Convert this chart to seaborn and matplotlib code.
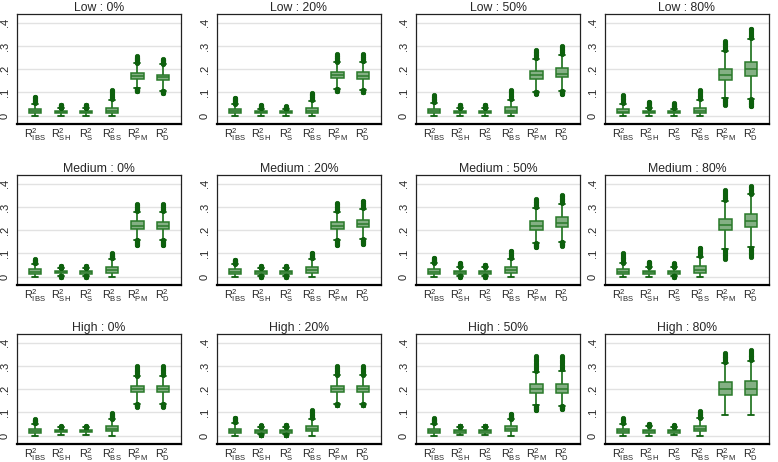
import numpy as np
import pandas as pd
import matplotlib
matplotlib.use("Agg")
import matplotlib.pyplot as plt
import seaborn as sns

# ---------------- data ----------------
measures = ["IBS", "SH", "S", "BS", "PM", "D"]
measure_labels = [r"R$^{2}_{\mathrm{IBS}}$", r"R$^{2}_{\mathrm{SH}}$", r"R$^{2}_{\mathrm{S}}$",
                  r"R$^{2}_{\mathrm{BS}}$", r"R$^{2}_{\mathrm{PM}}$", r"R$^{2}_{\mathrm{D}}$"]
levels = ["Low", "Medium", "High"]
missing = ["0%", "20%", "50%", "80%"]
ytick_vals = [0, 0.1, 0.2, 0.3, 0.4]
ytick_labels = ["0", ".1", ".2", ".3", ".4"]

# per panel, per measure: (outlier min, lower whisker, Q1, median, Q3, upper whisker, outlier max)
low_0 = [(0, 0, .010, .018, .028, .052, .082), (0, 0, .012, .016, .020, .032, .048),
         (0, 0, .011, .016, .020, .032, .048), (0, 0, .013, .022, .035, .067, .112),
         (.105, .118, .160, .172, .185, .226, .255), (.098, .108, .153, .165, .177, .222, .243)]
low_20 = [(0, 0, .010, .018, .029, .050, .077), (0, 0, .012, .016, .020, .030, .045),
          (0, 0, .011, .015, .019, .028, .040), (0, 0, .013, .022, .034, .065, .098),
          (.105, .116, .163, .174, .188, .230, .265), (.100, .112, .160, .172, .188, .232, .265)]
low_50 = [(0, 0, .010, .018, .030, .054, .088), (0, 0, .012, .016, .020, .032, .048),
          (0, 0, .012, .016, .020, .032, .048), (0, 0, .013, .022, .036, .068, .112),
          (.095, .104, .157, .173, .193, .244, .282), (.093, .108, .166, .180, .205, .263, .300)]
low_80 = [(0, 0, .010, .017, .028, .050, .090), (0, 0, .011, .016, .020, .032, .060),
          (0, 0, .011, .016, .020, .030, .053), (0, 0, .013, .022, .035, .068, .112),
          (.048, .074, .152, .174, .202, .277, .322), (.040, .073, .169, .200, .231, .330, .375)]
medium_0 = [(0, 0, .010, .022, .032, .055, .075), (0, .002, .014, .020, .024, .038, .045),
            (0, .002, .013, .019, .024, .038, .045), (0, 0, .016, .030, .042, .078, .100),
            (.135, .160, .206, .220, .238, .280, .312), (.135, .160, .206, .220, .236, .280, .312)]
medium_20 = [(0, 0, .012, .021, .031, .055, .073), (0, .002, .013, .019, .024, .038, .045),
             (0, .002, .013, .019, .024, .038, .045), (0, 0, .016, .030, .042, .078, .103),
             (.135, .160, .206, .220, .236, .280, .318), (.140, .163, .212, .228, .245, .292, .328)]
medium_50 = [(0, 0, .012, .021, .031, .057, .082), (0, .003, .012, .019, .025, .042, .058),
             (0, .002, .012, .019, .025, .040, .052), (0, 0, .016, .030, .042, .078, .112),
             (.127, .145, .203, .220, .240, .295, .333), (.133, .150, .213, .232, .255, .315, .352)]
medium_80 = [(0, 0, .012, .021, .031, .057, .100), (0, 0, .012, .019, .025, .040, .065),
             (0, .002, .012, .019, .025, .040, .058), (0, 0, .016, .030, .044, .085, .125),
             (.077, .120, .200, .222, .247, .325, .372), (.085, .127, .212, .238, .270, .355, .390)]
high_0 = [(0, 0, .012, .020, .028, .052, .070), (.004, .004, .014, .019, .023, .036, .040),
          (.004, .004, .014, .019, .023, .036, .040), (0, 0, .018, .028, .040, .070, .097),
          (.125, .137, .189, .200, .215, .255, .298), (.125, .138, .188, .200, .216, .258, .298)]
high_20 = [(0, 0, .012, .020, .030, .055, .078), (.004, .005, .013, .019, .024, .038, .044),
           (.004, .005, .013, .019, .024, .038, .046), (0, 0, .018, .028, .040, .072, .110),
           (.130, .137, .187, .200, .216, .260, .300), (.130, .137, .187, .200, .216, .260, .300)]
high_50 = [(0, 0, .012, .020, .028, .052, .075), (.004, .004, .013, .019, .024, .038, .043),
           (.004, .004, .013, .019, .024, .038, .043), (0, 0, .018, .028, .040, .072, .093),
           (.110, .130, .185, .201, .221, .275, .343), (.115, .128, .185, .203, .224, .280, .343)]
high_80 = [(0, 0, .012, .020, .028, .052, .075), (0, 0, .013, .019, .024, .040, .050),
           (.004, .004, .012, .018, .023, .036, .045), (0, 0, .018, .029, .042, .075, .105),
           (.090, .090, .174, .200, .230, .312, .355), (.090, .090, .177, .203, .235, .322, .368)]

panels = {
    ("Low", "0%"): low_0, ("Low", "20%"): low_20, ("Low", "50%"): low_50, ("Low", "80%"): low_80,
    ("Medium", "0%"): medium_0, ("Medium", "20%"): medium_20, ("Medium", "50%"): medium_50,
    ("Medium", "80%"): medium_80,
    ("High", "0%"): high_0, ("High", "20%"): high_20, ("High", "50%"): high_50, ("High", "80%"): high_80,
}

# ---------------- build samples whose box statistics reproduce the summaries ----------------
K = 60          # repetitions of each quartile value
NOUT = 12       # dots drawn along each outlier band


def sample_from_summary(s):
    """Sorted sample + whisker percentiles that make the boxplot show exactly s."""
    omin, wlo, q1, med, q3, whi, omax = s
    low_out = list(np.linspace(omin, wlo, NOUT + 1)[:-1]) if omin < wlo else []
    high_out = list(np.linspace(whi, omax, NOUT + 1)[1:]) if omax > whi else []
    core = [wlo] + [q1] * K + [med] * K + [q3] * K + [whi]
    vals = low_out + core + high_out
    n = len(vals)
    a = len(low_out)
    i_hi = a + 3 * K + 1
    p_lo = 0.0 if a == 0 else 100.0 * (a - 0.5) / (n - 1)
    p_hi = 100.0 if not high_out else 100.0 * (i_hi + 0.5) / (n - 1)
    return vals, (p_lo, p_hi)


# ---------------- style ----------------
sns.set_style("white")
plt.rcParams["font.family"] = ["Liberation Sans", "DejaVu Sans"]
plt.rcParams["mathtext.fontset"] = "custom"
plt.rcParams["mathtext.rm"] = "Liberation Sans"
plt.rcParams["mathtext.it"] = "Liberation Sans"

box_face = "#84b084"
edge_col = "#2a7a2a"
dark_col = "#0d600d"

fig = plt.figure(figsize=(7.78, 4.62), dpi=100)
W, H = 778.0, 462.0
col_left = [17, 217, 416, 605]
ax_w = 164
row_top = [14, 175, 334]
ax_h = 110

for r, lev in enumerate(levels):
    for c, mis in enumerate(missing):
        left = col_left[c] / W
        bottom = 1 - (row_top[r] + ax_h) / H
        ax = fig.add_axes([left, bottom, ax_w / W, ax_h / H])
        for yv in ytick_vals:
            ax.axhline(yv, color="#e2e2e2", lw=1.0, zorder=0)
        for m, s in zip(measures, panels[(lev, mis)]):
            vals, whis = sample_from_summary(s)
            df = pd.DataFrame({"measure": [m] * len(vals), "value": vals})
            sns.boxplot(data=df, x="measure", y="value", order=measures, ax=ax,
                        color=box_face, linecolor=edge_col, saturation=1, width=0.48,
                        linewidth=1.1, whis=whis, fliersize=3.2,
                        flierprops=dict(marker="o", markerfacecolor=dark_col,
                                        markeredgecolor=dark_col, markeredgewidth=0.5),
                        medianprops=dict(color=edge_col, lw=1.1),
                        whiskerprops=dict(color=edge_col, lw=1.3),
                        capprops=dict(color=dark_col, lw=1.3))
        ax.set_xlim(-0.72, 5.71)
        ax.set_ylim(-0.036, 0.438)
        ax.set_yticks(ytick_vals)
        ax.set_yticklabels(ytick_labels, rotation=90, va="center", fontsize=8)
        ax.set_xticks(range(len(measures)))
        ax.set_xticklabels(measure_labels, fontsize=7.8)
        ax.set_xlabel("")
        ax.set_ylabel("")
        ax.tick_params(axis="y", length=3, width=0.8, pad=2, color="#333333")
        ax.tick_params(axis="x", length=0, pad=1.5)
        for side in ["top", "right", "left"]:
            ax.spines[side].set_visible(True)
            ax.spines[side].set_color("#222222")
            ax.spines[side].set_linewidth(0.9)
        ax.spines["bottom"].set_color("black")
        ax.spines["bottom"].set_linewidth(1.6)
        ax.set_title(f"{lev} : {mis}", fontsize=8.8, pad=2)

fig.savefig("out.png", dpi=100)
